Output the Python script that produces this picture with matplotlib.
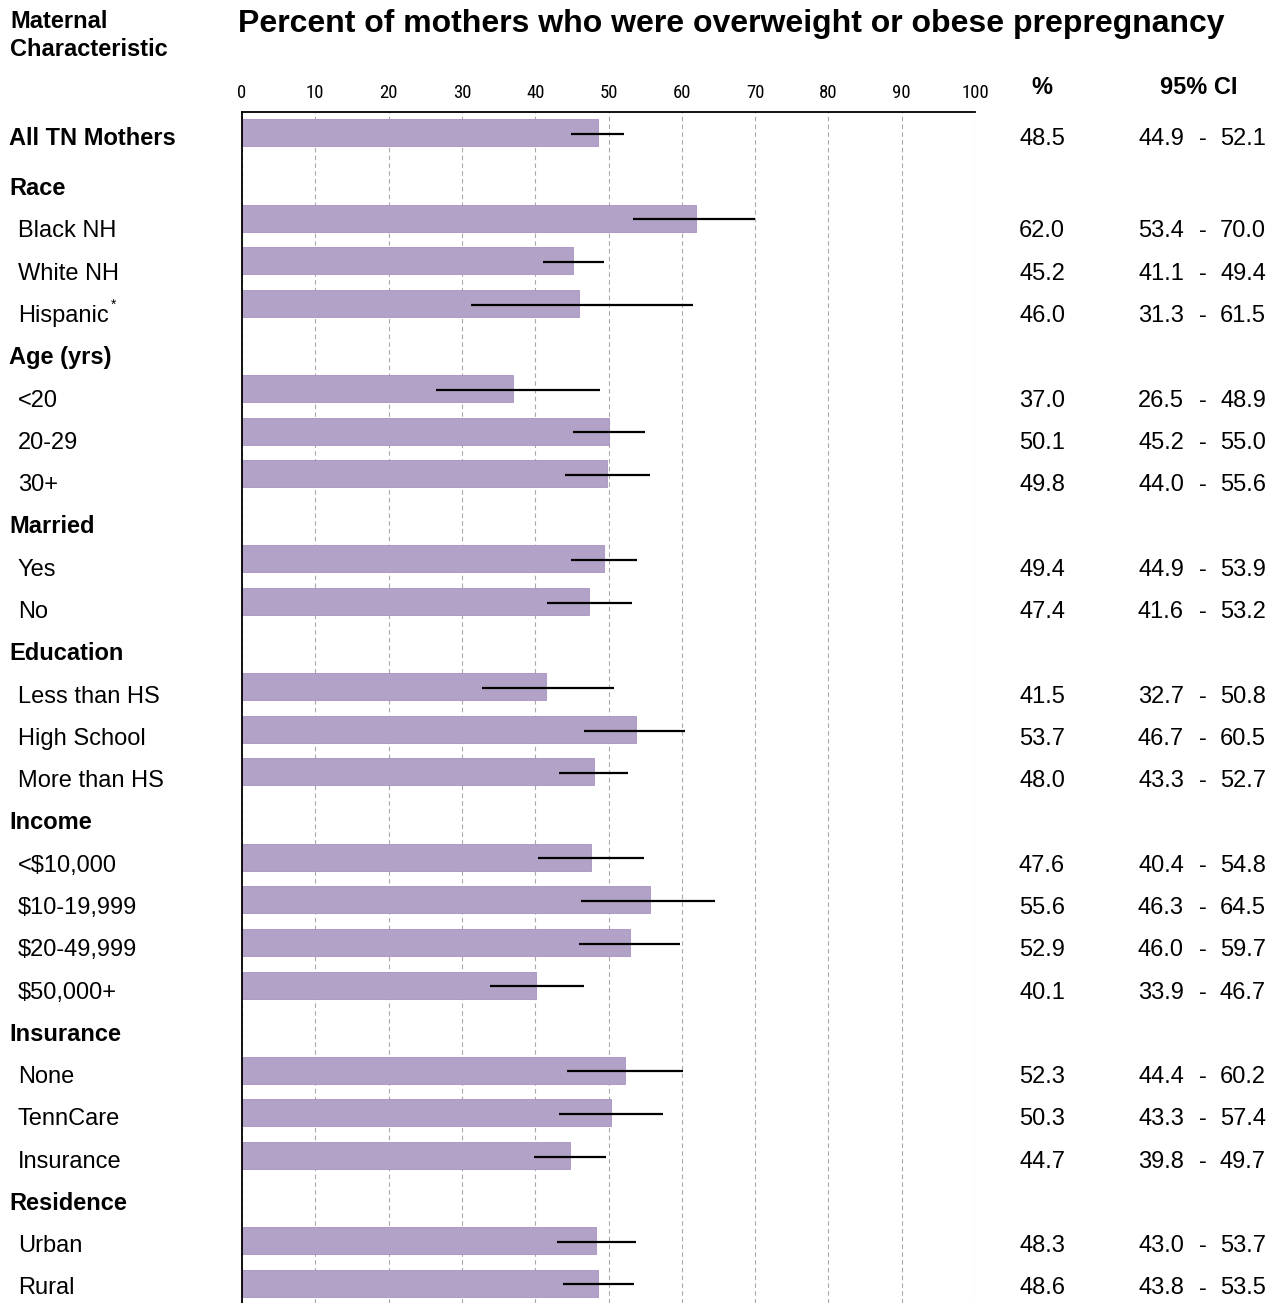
import matplotlib
matplotlib.use("Agg")
import matplotlib.pyplot as plt
import matplotlib.transforms as mtransforms
from matplotlib import font_manager
import numpy as np

# ---- data -------------------------------------------------------------
row_labels = [
    "All TN Mothers",
    "Race", "Black NH", "White NH", "Hispanic",
    "Age (yrs)", "<20", "20-29", "30+",
    "Married", "Yes", "No",
    "Education", "Less than HS", "High School", "More than HS",
    "Income", "<$10,000", "$10-19,999", "$20-49,999", "$50,000+",
    "Insurance", "None", "TennCare", "Insurance",
    "Residence", "Urban", "Rural",
]
row_kinds = [
    "total",
    "head", "item", "item", "item",
    "head", "item", "item", "item",
    "head", "item", "item",
    "head", "item", "item", "item",
    "head", "item", "item", "item", "item",
    "head", "item", "item", "item",
    "head", "item", "item",
]
footnoted = ["Hispanic"]

pct = [48.5,
       62.0, 45.2, 46.0,
       37.0, 50.1, 49.8,
       49.4, 47.4,
       41.5, 53.7, 48.0,
       47.6, 55.6, 52.9, 40.1,
       52.3, 50.3, 44.7,
       48.3, 48.6]
ci_low = [44.9,
          53.4, 41.1, 31.3,
          26.5, 45.2, 44.0,
          44.9, 41.6,
          32.7, 46.7, 43.3,
          40.4, 46.3, 46.0, 33.9,
          44.4, 43.3, 39.8,
          43.0, 43.8]
ci_high = [52.1,
           70.0, 49.4, 61.5,
           48.9, 55.0, 55.6,
           53.9, 53.2,
           50.8, 60.5, 52.7,
           54.8, 64.5, 59.7, 46.7,
           60.2, 57.4, 49.7,
           53.7, 53.5]
x_ticks = [0, 10, 20, 30, 40, 50, 60, 70, 80, 90, 100]

title = "Percent of mothers who were overweight or obese prepregnancy"

# ---- fonts ------------------------------------------------------------
installed = {f.name for f in font_manager.fontManager.ttflist}
main_font = "Liberation Sans" if "Liberation Sans" in installed else "DejaVu Sans"
narrow_font = None
for cand in ["Liberation Sans Narrow", "Arial Narrow", "Roboto Condensed",
             "DejaVu Sans Condensed"]:
    if cand in installed:
        narrow_font = cand
        break
plt.rcParams["font.family"] = [main_font, "DejaVu Sans"]

# ---- layout -------------------------------------------------------------
W, H = 1279, 1303
fig = plt.figure(figsize=(W / 100, H / 100), dpi=100)
fig.patch.set_facecolor("white")

row_px = 42.6
ax_left, ax_right, ax_top = 242, 975, 112
first_row_px = 133
ax = fig.add_axes([ax_left / W, 0, (ax_right - ax_left) / W, (H - ax_top) / H])

y_top = -(first_row_px - ax_top) / row_px
y_bot = (H - first_row_px) / row_px
ax.set_ylim(y_bot, y_top)
ax.set_xlim(0, 100)

bar_rows = np.array([i for i, k in enumerate(row_kinds) if k != "head"], dtype=float)

ax.barh(bar_rows, pct, height=27 / row_px, color="#B3A2C7",
        edgecolor="#A990C2", linewidth=0.6, zorder=2)
ax.hlines(bar_rows + 0.03, ci_low, ci_high, color="black", linewidth=1.6, zorder=3)

ax.set_axisbelow(True)
ax.set_xticks(x_ticks)
ax.xaxis.grid(True, linestyle=(0, (4, 3)), color="#a8a8a8", linewidth=0.8)
ax.yaxis.grid(False)
ax.set_yticks([])
ax.xaxis.tick_top()
ax.tick_params(axis="x", length=0, pad=7.5)
tick_font = dict(fontsize=13.5, family=narrow_font) if narrow_font else dict(fontsize=11.5)
ax.set_xticklabels([str(t) for t in x_ticks], **tick_font)

for side in ("right", "bottom"):
    ax.spines[side].set_visible(False)
ax.spines["top"].set_linewidth(1.3)
ax.spines["left"].set_linewidth(1.3)
ax.spines["top"].set_color("black")
ax.spines["left"].set_color("black")

# ---- text columns -------------------------------------------------------
fs = 17
def row_text_y(k):
    # vertical position (data units) of the baseline for each table row
    if k == 0:
        center_px = 137
    else:
        center_px = 229 + 42.28 * (k - 2)
    return (center_px + 8.5 - first_row_px) / row_px

blend = mtransforms.blended_transform_factory(fig.transFigure, ax.transData)

note_targets = []
bar_idx = 0
for k, (lab, kind) in enumerate(zip(row_labels, row_kinds)):
    ty = row_text_y(k)
    if kind in ("head", "total"):
        ax.text(9 / W, ty, lab, transform=blend, fontsize=fs, fontweight="bold",
                ha="left", va="baseline", clip_on=False)
    else:
        t = ax.text(18 / W, ty, lab.replace("$", r"\$"), transform=blend, fontsize=fs,
                    ha="left", va="baseline", clip_on=False)
        if lab in footnoted:
            note_targets.append((t, ty))
    if kind != "head":
        ax.text(1042 / W, ty, f"{pct[bar_idx]:.1f}", transform=blend, fontsize=fs,
                ha="center", va="baseline", clip_on=False)
        ax.text(1184 / W, ty, f"{ci_low[bar_idx]:.1f}", transform=blend, fontsize=fs,
                ha="right", va="baseline", clip_on=False)
        ax.text(1203 / W, ty, "-", transform=blend, fontsize=fs,
                ha="center", va="baseline", clip_on=False)
        ax.text(1266 / W, ty, f"{ci_high[bar_idx]:.1f}", transform=blend, fontsize=fs,
                ha="right", va="baseline", clip_on=False)
        bar_idx += 1

# footnote markers set as superscripts right after their labels
fig.canvas.draw()
renderer = fig.canvas.get_renderer()
for t, ty in note_targets:
    bb = t.get_window_extent(renderer)
    base = ax.transData.transform((0, ty))[1]
    fig.text((bb.x1 + 2) / W, (base + 13) / H, "*", fontsize=10,
             ha="left", va="baseline")

# ---- headings -----------------------------------------------------------
fig.text(238 / W, 1 - 24 / H, title, fontsize=23, fontweight="bold",
         ha="left", va="center")
fig.text(10 / W, 1 - 21 / H, "Maternal", fontsize=17, fontweight="bold",
         ha="left", va="center")
fig.text(10 / W, 1 - 49 / H, "Characteristic", fontsize=17, fontweight="bold",
         ha="left", va="center")
fig.text(1042 / W, 1 - 88 / H, "%", fontsize=fs, fontweight="bold",
         ha="center", va="center")
fig.text(1199 / W, 1 - 88 / H, "95% CI", fontsize=fs, fontweight="bold",
         ha="center", va="center")

fig.savefig("out.png", dpi=100, facecolor="white")
